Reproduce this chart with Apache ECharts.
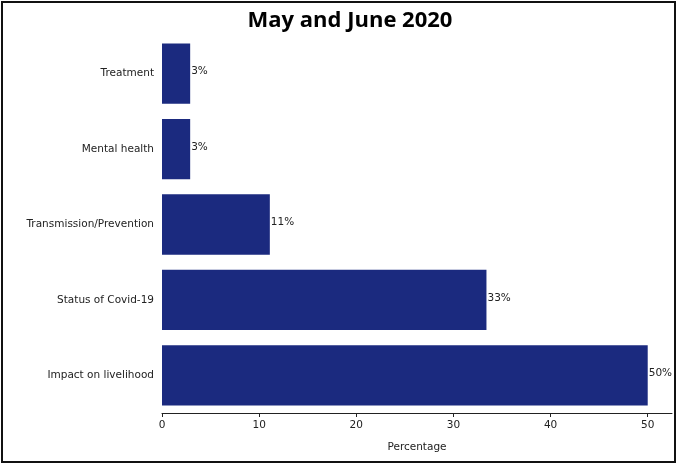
<!DOCTYPE html>
<html>
<head>
<meta charset="utf-8">
<script src="https://cdn.jsdelivr.net/npm/echarts@6/dist/echarts.min.js"></script>
<style>
html,body{margin:0;padding:0;background:#fff;}
#c{width:677px;height:464px;}
</style>
</head>
<body>
<div id="c"></div>
<script>
const categories = ["Impact on livelihood", "Status of Covid-19", "Transmission/Prevention", "Mental health", "Treatment"];
const values = [50.0, 33.4, 11.1, 2.9, 2.9];
const xTicks = [0, 10, 20, 30, 40, 50];

const chart = echarts.init(document.getElementById('c'), null, {renderer: 'canvas'});
const font = 'DejaVu Sans';
chart.setOption({
  animation: false,
  backgroundColor: '#fff',
  title: {
    text: 'May and June 2020',
    left: 345, top: 5, textAlign: 'center',
    textStyle: {fontFamily: 'Open Sans', fontWeight: 'bold', fontSize: 22, color: '#000'}
  },
  grid: {left: 162, right: 5, top: 36, bottom: 51, containLabel: false},
  xAxis: {
    type: 'value', min: 0, max: 52.5,
    name: 'Percentage', nameLocation: 'middle', nameGap: 29,
    nameTextStyle: {fontFamily: font, fontSize: 10.5, color: '#222'},
    axisLine: {show: true, lineStyle: {color: '#222', width: 1}},
    axisTick: {show: true, length: 4, lineStyle: {color: '#222'}, customValues: xTicks},
    axisLabel: {fontFamily: font, fontSize: 10.5, color: '#222', margin: 7, customValues: xTicks},
    splitLine: {show: false}
  },
  yAxis: {
    type: 'category', data: categories,
    axisLine: {show: false}, axisTick: {show: false},
    axisLabel: {fontFamily: font, fontSize: 10.5, color: '#222', margin: 8}
  },
  series: [{
    type: 'bar', data: values, barCategoryGap: '20%',
    itemStyle: {color: '#1b2a7f'},
    label: {show: true, position: 'right', distance: 1, offset: [0, -2],
      fontFamily: font, fontSize: 10.5, color: '#222',
      formatter: p => Math.round(p.value) + '%'}
  }],
  graphic: [{
    type: 'rect', shape: {x: 2, y: 2, width: 673, height: 460},
    style: {fill: 'none', stroke: '#111', lineWidth: 2}, silent: true
  }]
});
</script>
</body>
</html>
